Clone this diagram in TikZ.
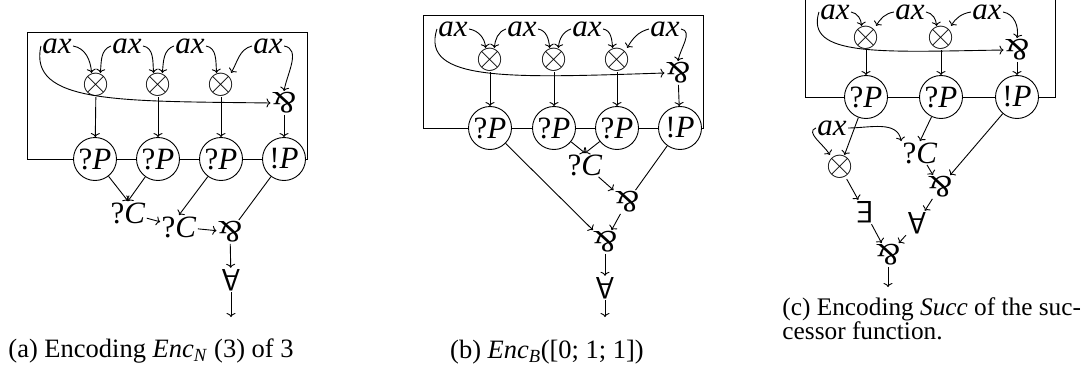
\documentclass[tikz,border=0pt]{standalone}
\usepackage{graphicx}
\usepackage{fontspec}
\setmainfont{Liberation Serif}
\usetikzlibrary{arrows.meta}
\newcommand{\myparr}{\rotatebox[origin=c]{180}{\&}}
\newcommand{\myall}{\rotatebox[origin=c]{180}{\textsf{A}}}
\newcommand{\myex}{\rotatebox[origin=c]{180}{\textsf{E}}}
\newcommand{\mytens}{\scalebox{1.4}{$\otimes$}}
\begin{document}
\begin{tikzpicture}[x=1pt,y=-1pt,
  every node/.style={font=\fontsize{31}{34}\selectfont},
  lab/.style={inner sep=1pt},
  pn/.style={circle,draw,fill=white,minimum size=43pt,inner sep=0pt},
  ten/.style={inner sep=0pt},
  captxt/.style={font=\fontsize{26.5}{30}\selectfont,inner sep=0pt},
  arr/.style={-{To[length=4pt,width=9pt]}},
  line width=0.9pt]
\useasboundingbox (0,0) rectangle (1088,372);

% ---------------- (a) ----------------
\draw (27,32) rectangle (307,159);
\node[pn] (pa1) at (95,159) {?\textit{P}};
\node[pn] (pa2) at (158,159) {?\textit{P}};
\node[pn] (pa3) at (221,159) {?\textit{P}};
\node[pn] (pa4) at (284,159) {!\textit{P}};
\node[ten] (ta1) at (96,85) {\mytens};
\node[ten] (ta2) at (158,85) {\mytens};
\node[ten] (ta3) at (221,85) {\mytens};
\node[lab] (xa1) at (57,46) {\textit{ax}};
\node[lab] (xa2) at (127,46) {\textit{ax}};
\node[lab] (xa3) at (190,46) {\textit{ax}};
\node[lab] (xa4) at (268,46) {\textit{ax}};
\node[lab] (ra) at (284,103) {\myparr};
\draw[arr] (xa1.east) to[out=-10,in=95] (ta1.110);
\draw[arr] (xa2.west) to[out=200,in=85] (ta1.70);
\draw[arr] (xa2.east) to[out=-10,in=95] (ta2.110);
\draw[arr] (xa3.west) to[out=200,in=85] (ta2.70);
\draw[arr] (xa3.east) to[out=-10,in=95] (ta3.110);
\draw[arr] (xa4.west) to[out=195,in=60] (ta3.50);
\draw[arr] (xa4.east) to[out=-10,in=80] (ra.north);
\draw[arr] (xa1.west) .. controls (28,104) and (120,101) .. (ra.west);
\draw[arr] (ta1) -- (pa1);
\draw[arr] (ta2) -- (pa2);
\draw[arr] (ta3) -- (pa3);
\draw[arr] (ra) -- (pa4);
\node[lab] (ca1) at (128,213) {?\textit{C}};
\node[lab] (ca2) at (179,227) {?\textit{C}};
\node[lab] (rb) at (230,232) {\myparr};
\node[lab] (fa) at (231,280) {\myall};
\coordinate (ea) at (231,317);
\draw[arr] (pa1) -- (ca1.north);
\draw[arr] (pa2) -- (ca1.north);
\draw[arr] (pa3) -- (ca2.north);
\draw[arr] (ca1) -- (ca2);
\draw[arr] (ca2) -- (rb);
\draw (pa4) -- (rb);
\draw[arr] (rb) -- (fa);
\draw[arr] (fa) -- (ea);
\node[captxt,anchor=west] (capa) at (8,351) {(a) Encoding \textit{Enc}\textsubscript{\textit{N}} (3) of 3};

% ---------------- (b) ----------------
\draw (423,15) rectangle (703,128);
\node[pn] (pb1) at (490,128) {?\textit{P}};
\node[pn] (pb2) at (554,128) {?\textit{P}};
\node[pn] (pb3) at (617,128) {?\textit{P}};
\node[pn] (pb4) at (680,128) {!\textit{P}};
\node[ten] (tb1) at (490,60) {\mytens};
\node[ten] (tb2) at (554,60) {\mytens};
\node[ten] (tb3) at (617,60) {\mytens};
\node[lab] (xb1) at (453,29) {\textit{ax}};
\node[lab] (xb2) at (522,29) {\textit{ax}};
\node[lab] (xb3) at (587,29) {\textit{ax}};
\node[lab] (xb4) at (665,29) {\textit{ax}};
\node[lab] (rc) at (678,73) {\myparr};
\draw[arr] (xb1.east) to[out=-10,in=95] (tb1.110);
\draw[arr] (xb2.west) to[out=200,in=85] (tb1.70);
\draw[arr] (xb2.east) to[out=-10,in=95] (tb2.110);
\draw[arr] (xb3.west) to[out=200,in=85] (tb2.70);
\draw[arr] (xb3.east) to[out=-10,in=95] (tb3.110);
\draw[arr] (xb4.west) to[out=195,in=60] (tb3.50);
\draw[arr] (xb4.east) to[out=-10,in=80] (rc.north);
\draw[arr] (xb1.west) .. controls (420,82) and (510,78) .. (rc.west);
\draw[arr] (tb1) -- (pb1);
\draw[arr] (tb2) -- (pb2);
\draw[arr] (tb3) -- (pb3);
\draw[arr] (rc) -- (pb4);
\node[lab] (cb) at (585,165) {?\textit{C}};
\node[lab] (rd) at (627,202) {\myparr};
\node[lab] (re) at (605,242) {\myparr};
\node[lab] (fb) at (605,288) {\myall};
\coordinate (eb) at (605,317);
\draw[arr] (pb2) -- (cb.north);
\draw[arr] (pb3) -- (cb.north);
\draw[arr] (cb) -- (rd);
\draw (pb4) -- (rd);
\draw[arr] (pb1) -- (re);
\draw[arr] (rd) -- (re);
\draw[arr] (re) -- (fb);
\draw[arr] (fb) -- (eb);
\node[captxt] (capb) at (547,352) {(b) \textit{Enc}\textsubscript{\textit{B}}([0; 1; 1])};

% ---------------- (c) ----------------
\draw (805,-3) rectangle (1055,97);
\node[pn] (pc1) at (866,97) {?\textit{P}};
\node[pn] (pc2) at (941,97) {?\textit{P}};
\node[pn] (pc3) at (1017,97) {!\textit{P}};
\node[ten] (tc1) at (866,38) {\mytens};
\node[ten] (tc2) at (941,38) {\mytens};
\node[lab] (xc1) at (835,12) {\textit{ax}};
\node[lab] (xc2) at (910,12) {\textit{ax}};
\node[lab] (xc3) at (987,12) {\textit{ax}};
\node[lab] (rf) at (1017,50) {\myparr};
\draw[arr] (xc1.east) to[out=-10,in=95] (tc1.110);
\draw[arr] (xc2.west) to[out=190,in=60] (tc1.50);
\draw[arr] (xc2.east) to[out=-10,in=95] (tc2.110);
\draw[arr] (xc3.west) to[out=190,in=60] (tc2.50);
\draw[arr] (xc3.east) to[out=-10,in=80] (rf.north);
\draw[arr] (xc1.west) .. controls (805,57) and (880,52) .. (rf.west);
\draw[arr] (tc1) -- (pc1);
\draw[arr] (tc2) -- (pc2);
\draw[arr] (rf) -- (pc3);
\node[lab] (xc4) at (832,128) {\textit{ax}};
\node[ten] (tc3) at (840,167) {\mytens};
\node[lab] (cc) at (920,153) {?\textit{C}};
\node[lab] (rg) at (940,187) {\myparr};
\node[lab] (ec) at (865,212) {\myex};
\node[lab] (fc) at (917,223) {\myall};
\node[lab] (rh) at (888,255) {\myparr};
\coordinate (ecend) at (888,287);
\draw[arr] (pc1) -- (tc3);
\draw[arr] (xc4.west) to[out=200,in=120] (tc3.130);
\draw[arr] (xc4.east) to[out=0,in=100] (cc.north west);
\draw[arr] (pc2) -- (cc.north);
\draw[arr] (cc) -- (rg);
\draw[arr] (pc3) -- (rg);
\draw[arr] (tc3) -- (ec);
\draw[arr] (rg) -- (fc);
\draw[arr] (ec) -- (rh);
\draw[arr] (fc) -- (rh);
\draw[arr] (rh) -- (ecend);
\node[captxt,font=\fontsize{25.3}{28}\selectfont,anchor=base west] (capc1) at (782,315) {(c) Encoding \textit{Succ} of the suc-};
\node[captxt,font=\fontsize{25.3}{28}\selectfont,anchor=base west] (capc2) at (782,339) {cessor function.};
\end{tikzpicture}
\end{document}
